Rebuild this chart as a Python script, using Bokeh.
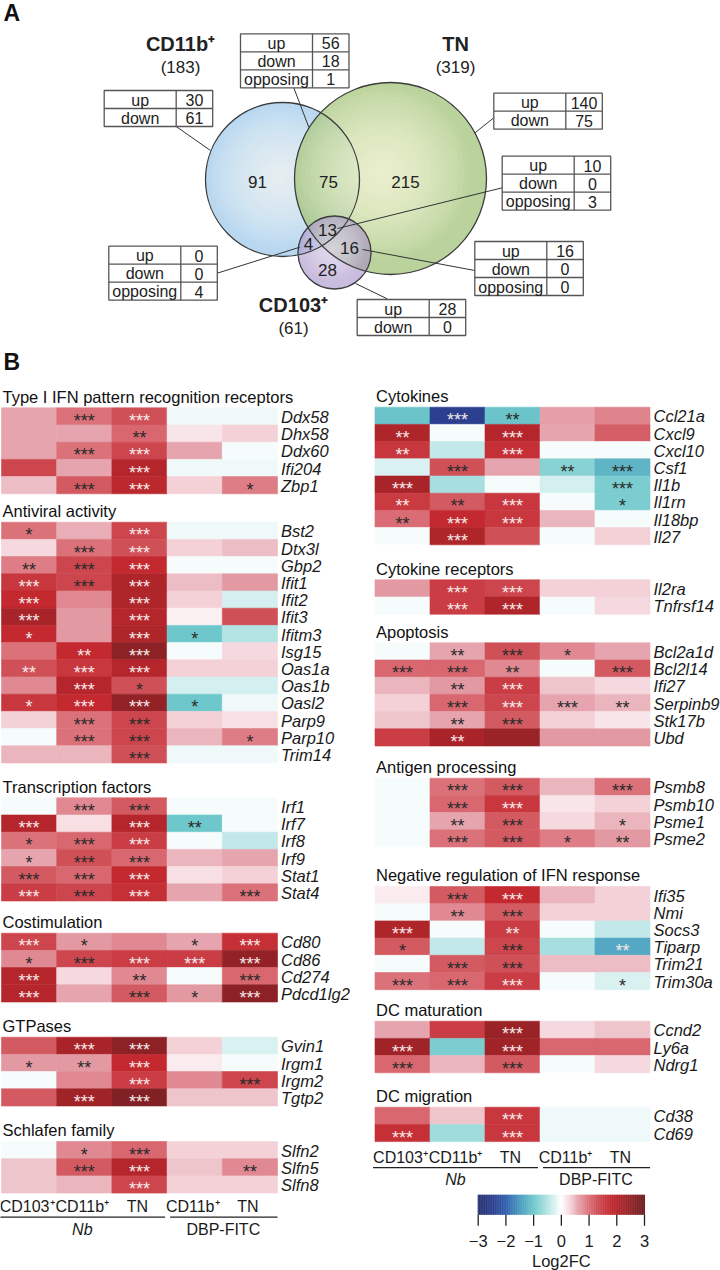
import numpy as np
from bokeh.plotting import figure
from bokeh.models import Range1d, ColumnDataSource
from bokeh.transform import linear_cmap
from bokeh.core.properties import value
from bokeh.embed import file_html
from bokeh.resources import INLINE

FONT = "Liberation Sans"

# ---------------- data: Venn (panel A) ----------------
venn_sets = ["CD11b\u207a", "TN", "CD103\u207a"]
venn_totals = [183, 319, 61]
# regions: CD11b only, CD11b&TN, TN only, all three, TN&CD103, CD103 only, CD11b&CD103
region_counts = [91, 75, 215, 13, 16, 28, 4]
tab_up = [30, 56, 140, 10, 16, 28, 0]
tab_down = [61, 18, 75, 0, 0, 0, 0]
tab_opp = [None, 1, None, 3, 0, None, 4]

# ---------------- data: heatmaps (panel B) ----------------
conditions = ["CD103\u207a", "CD11b\u207a", "TN", "CD11b\u207a", "TN"]
groups = ["Nb", "DBP-FITC"]
cbar_ticks = [-3, -2, -1, 0, 1, 2, 3]
cbar_labels = ["\u22123", "\u22122", "\u22121", "0", "1", "2", "3"]
cbar_title = "Log2FC"

prr_title = "Type I IFN pattern recognition receptors"
prr_genes = ["Ddx58", "Dhx58", "Ddx60", "Ifi204", "Zbp1"]
prr_fc = [[0.6, 1.0, 1.3, -0.1, -0.1], [0.6, 0.6, 1.1, 0.2, 0.35], [0.6, 1.0, 1.4, 0.6, -0.05],
          [1.4, 0.6, 2.0, -0.1, -0.1], [0.45, 1.2, 1.9, 0.35, 0.9]]
prr_sig = [["", "***", "***w", "", ""], ["", "", "**", "", ""], ["", "***", "***w", "", ""],
           ["", "", "***w", "", ""], ["", "***", "***w", "", "*"]]

av_title = "Antiviral activity"
av_genes = ["Bst2", "Dtx3l", "Gbp2", "Ifit1", "Ifit2", "Ifit3", "Ifitm3", "Isg15", "Oas1a", "Oas1b",
            "Oasl2", "Parp9", "Parp10", "Trim14"]
av_fc = [[1.0, 0.55, 1.4, -0.1, -0.1], [0.3, 1.0, 1.3, 0.35, 0.45], [0.9, 1.4, 1.8, -0.05, -0.05],
         [1.6, 1.4, 2.1, 0.45, 0.7], [1.8, 0.8, 2.1, 0.35, -0.3], [2.2, 0.7, 2.0, 0.1, 1.3],
         [1.8, 0.7, 2.1, -1.0, -0.5], [1.0, 1.8, 2.6, -0.05, 0.3], [1.3, 1.6, 2.0, 0.35, 0.35],
         [0.8, 2.0, 1.3, -0.3, -0.3], [1.6, 1.8, 2.5, -1.0, -0.1], [0.35, 1.0, 1.4, 0.35, 0.25],
         [-0.05, 1.0, 1.4, 0.5, 0.9], [0.5, 0.5, 1.3, -0.1, -0.1]]
av_sig = [["*", "", "***w", "", ""], ["", "***", "***w", "", ""], ["**", "***", "***w", "", ""],
          ["***w", "***", "***w", "", ""], ["***w", "", "***w", "", ""], ["***w", "", "***w", "", ""],
          ["*w", "", "***w", "*", ""], ["", "**w", "***w", "", ""], ["**w", "***w", "***w", "", ""],
          ["", "***w", "*", "", ""], ["*w", "***w", "***w", "*", ""], ["", "***", "***", "", ""],
          ["", "***", "***", "", "*"], ["", "", "***", "", ""]]

tf_title = "Transcription factors"
tf_genes = ["Irf1", "Irf7", "Irf8", "Irf9", "Stat1", "Stat4"]
tf_fc = [[-0.05, 0.8, 1.2, -0.05, -0.05], [2.0, 0.25, 2.0, -1.0, -0.05], [1.0, 1.1, 1.5, -0.05, -0.4],
         [0.6, 1.3, 1.1, 0.5, 0.6], [1.2, 1.1, 1.8, 0.25, 0.35], [1.5, 1.4, 1.7, 0.6, 1.0]]
tf_sig = [["", "***", "***", "", ""], ["***w", "", "***w", "**", ""], ["*", "***", "***w", "", ""],
          ["*", "***", "***", "", ""], ["***", "***", "***w", "", ""], ["***w", "***", "***w", "", "***"]]

co_title = "Costimulation"
co_genes = ["Cd80", "Cd86", "Cd274", "Pdcd1lg2"]
co_fc = [[1.4, 0.7, 0.8, 0.6, 1.7], [0.8, 1.4, 1.5, 1.5, 2.5], [2.0, 0.3, 0.8, -0.05, 1.1],
         [2.0, 0.6, 1.2, 0.7, 2.6]]
co_sig = [["***w", "*", "", "*", "***w"], ["*", "***", "***w", "***w", "***w"],
          ["***w", "", "**", "", "***"], ["***w", "", "***", "*", "***w"]]

gtp_title = "GTPases"
gtp_genes = ["Gvin1", "Irgm1", "Irgm2", "Tgtp2"]
gtp_fc = [[1.2, 2.2, 2.6, 0.35, -0.25], [0.7, 0.7, 1.8, 0.15, -0.05], [-0.05, 0.8, 1.5, 0.8, 1.4],
          [1.2, 2.3, 2.7, 0.4, 0.4]]
gtp_sig = [["", "***w", "***w", "", ""], ["*", "**", "***w", "", ""], ["", "", "***w", "", "***"],
           ["", "***w", "***w", "", ""]]

sl_title = "Schlafen family"
sl_genes = ["Slfn2", "Slfn5", "Slfn8"]
sl_fc = [[-0.05, 0.8, 1.1, 0.35, 0.35], [0.4, 1.2, 2.0, 0.4, 0.8], [0.4, 0.5, 1.4, 0.35, 0.35]]
sl_sig = [["", "*", "***", "", ""], ["", "***", "***w", "", "**"], ["", "", "***w", "", ""]]

cy_title = "Cytokines"
cy_genes = ["Ccl21a", "Cxcl9", "Cxcl10", "Csf1", "Il1b", "Il1rn", "Il18bp", "Il27"]
cy_fc = [[-1.05, -2.5, -1.05, 0.65, 0.85], [2.1, -0.05, 2.0, 0.6, 1.15], [1.6, -0.4, 1.7, -0.05, -0.05],
         [-0.25, 1.3, 0.6, -0.8, -1.2], [2.2, -0.6, -0.05, -0.3, -0.9], [1.55, 1.2, 1.6, -0.05, -0.9],
         [1.05, 1.8, 1.6, 0.5, -0.05], [-0.05, 2.1, 1.3, -0.05, 0.35]]
cy_sig = [["", "***w", "**", "", ""], ["**w", "", "***w", "", ""], ["**w", "", "***w", "", ""],
          ["", "***", "", "**", "***"], ["***w", "", "", "", "***"], ["**w", "**", "***w", "", "*"],
          ["**", "***w", "***w", "", ""], ["", "***w", "", "", ""]]

cr_title = "Cytokine receptors"
cr_genes = ["Il2ra", "Tnfrsf14"]
cr_fc = [[0.7, 1.5, 1.4, 0.35, 0.35], [-0.05, 1.5, 2.1, -0.05, 0.3]]
cr_sig = [["", "***w", "***w", "", ""], ["", "***w", "***w", "", ""]]

ap_title = "Apoptosis"
ap_genes = ["Bcl2a1d", "Bcl2l14", "Ifi27", "Serpinb9", "Stk17b", "Ubd"]
ap_fc = [[-0.05, 0.6, 1.3, 0.8, 0.6], [1.1, 1.1, 0.8, -0.05, 1.2], [0.5, 0.7, 1.5, 0.4, 0.3],
         [0.35, 1.1, 1.4, 0.6, 0.5], [0.4, 0.6, 1.2, 0.35, 0.2], [1.5, 2.2, 2.4, 0.7, 0.7]]
ap_sig = [["", "**", "***", "*", ""], ["***", "***", "**", "", "***"], ["", "**", "***w", "", ""],
          ["", "***", "***w", "***", "**"], ["", "**", "***", "", ""], ["", "**w", "", "", ""]]

ag_title = "Antigen processing"
ag_genes = ["Psmb8", "Psmb10", "Psme1", "Psme2"]
ag_fc = [[-0.05, 1.0, 1.2, 0.5, 1.0], [-0.05, 1.1, 1.6, 0.2, 0.35], [-0.05, 0.6, 1.2, 0.3, 0.5],
         [-0.05, 1.0, 1.2, 0.9, 0.7]]
ag_sig = [["", "***", "***", "", "***"], ["", "***", "***w", "", ""], ["", "**", "***", "", "*"],
          ["", "***", "***", "*", "**"]]

ng_title = "Negative regulation of IFN response"
ng_genes = ["Ifi35", "Nmi", "Socs3", "Tiparp", "Trim21", "Trim30a"]
ng_fc = [[0.15, 1.2, 1.8, 0.5, 0.35], [-0.05, 0.8, 1.2, 0.35, 0.35], [2.1, -0.05, 1.5, -0.05, -0.4],
         [1.2, -0.4, 1.4, -0.6, -1.35], [-0.05, 1.2, 1.3, 0.45, 0.45], [1.0, 1.1, 1.5, -0.05, -0.25]]
ng_sig = [["", "***", "***w", "", ""], ["", "**", "***", "", ""], ["***w", "", "**w", "", ""],
          ["*", "", "***", "", "**w"], ["", "***", "***", "", ""], ["***", "***", "***w", "", "*"]]

mt_title = "DC maturation"
mt_genes = ["Ccnd2", "Ly6a", "Ndrg1"]
mt_fc = [[0.6, 1.5, 2.4, 0.3, 0.4], [2.3, -0.9, 2.3, 1.1, 1.1], [1.1, 0.5, 1.2, -0.05, 0.3]]
mt_sig = [["", "", "***w", "", ""], ["***w", "", "***w", "", ""], ["***", "", "***", "", ""]]

mg_title = "DC migration"
mg_genes = ["Cd38", "Cd69"]
mg_fc = [[1.1, 0.4, 1.6, -0.1, -0.1], [1.7, -0.65, 1.6, -0.1, -0.1]]
mg_sig = [["", "", "***w", "", ""], ["***w", "", "***w", "", ""]]

# ---------------- colour scale ----------------
cm_vals = [-3, -2.5, -2, -1.5, -1, -0.5, 0, 0.3, 0.6, 1.0, 1.4, 1.8, 2.2, 2.6, 3]
cm_cols = ["#283070", "#2c3f8f", "#3060ad", "#4a9ac0", "#6ec8cb", "#b5e3e4", "#ffffff", "#f5d8de",
           "#e6a5ae", "#db7179", "#cd464d", "#c3292f", "#a82429", "#8c2226", "#6b1d21"]


def make_palette(vals, cols, n=256):
    rgb = np.array([[int(c[i:i + 2], 16) for i in (1, 3, 5)] for c in cols], dtype=float)
    xs = np.linspace(vals[0], vals[-1], n)
    out = []
    for x in xs:
        r, g, b = (np.interp(x, vals, rgb[:, k]) for k in range(3))
        out.append("#%02x%02x%02x" % (int(round(r)), int(round(g)), int(round(b))))
    return out


PALETTE = make_palette(cm_vals, cm_cols)

# ---------------- figure (data units == page pixels) ----------------
W, H = 720, 1270
p = figure(width=W, height=H, x_range=Range1d(0, W), y_range=Range1d(H, 0),
           output_backend="svg", toolbar_location=None, x_axis_type=None, y_axis_type=None,
           min_border=0)
p.outline_line_color = None
p.background_fill_color = "white"
p.border_fill_color = "white"


def add_text(xs, ys, texts, size, color="#1a1a1a", style="normal", align="left",
             baseline="middle", colors=None):
    data = dict(x=list(xs), y=list(ys), t=list(texts))
    if colors is not None:
        data["c"] = list(colors)
    src = ColumnDataSource(data)
    p.text("x", "y", "t", source=src, text_font=value(FONT), text_font_size=value(f"{size}px"),
           text_font_style=value(style), text_color=("c" if colors is not None else value(color)),
           text_align=value(align), text_baseline=value(baseline))


# ---------------- panel A: Venn ----------------
add_text([3], [12], ["A"], 23, style="bold", color="#111")
add_text([3], [361], ["B"], 23, style="bold", color="#111")

cx = [282, 390, 334]
cy = [179, 178, 252]
cr = [77, 96, 36.5]
base_cols = ["#b9d8f0", "#a3c37a", "#a590c8"]
base_alpha = [1.0, 0.75, 0.6]
hl_cols = ["#ffffff", "#fdfde6", "#ffffff"]
hl_off = [(-3, -3), (-8, -6), (-2, -4)]
hl_alpha = [0.065, 0.075, 0.045]
for k in range(3):
    p.circle(x=[cx[k]], y=[cy[k]], radius=cr[k], fill_color=base_cols[k], fill_alpha=base_alpha[k],
             line_color=None)
    radii = [cr[k] * f for f in np.arange(0.9, 0.03, -0.05)]
    p.circle(x=[cx[k] + hl_off[k][0]] * len(radii), y=[cy[k] + hl_off[k][1]] * len(radii),
             radius=radii, fill_color=hl_cols[k], fill_alpha=hl_alpha[k], line_color=None)
p.circle(x=cx, y=cy, radius=cr, fill_color=None, line_color="#3c3c3c", line_width=1.3)

# set names and totals
set_lx = [180, 455, 293]
set_ly = [43, 43, 304]
add_text(set_lx, set_ly, venn_sets, 20, style="bold", color="#222", align="center")
add_text(set_lx, [y + 24 for y in set_ly], [f"({t})" for t in venn_totals], 17, color="#222",
         align="center")

# region counts
reg_x = [257, 328, 405, 327, 349, 327, 308]
reg_y = [181, 181, 181, 229, 247, 269, 243]
add_text(reg_x, reg_y, [str(c) for c in region_counts], 17, color="#222", align="center")

# tables
tab_x0 = [103.7, 240, 493.3, 501.7, 474.3, 356.7, 108.3]
tab_y0 = [90, 33.3, 92.7, 155.7, 241, 299, 245.7]
tab_wl = 72
tab_wr = 36.5
tab_rh = 18
lead = [((175.7, 126), (210, 150)), ((293.3, 87.3), (308.3, 126.7)), ((493.3, 117.3), (474, 132.7)),
        ((501.7, 187.3), (337, 228)), ((474.3, 270), (362, 249)), ((386.7, 298.3), (355, 283)),
        ((216.7, 272.7), (299.3, 246.7))]
p.segment(x0=[a[0][0] for a in lead], y0=[a[0][1] for a in lead], x1=[a[1][0] for a in lead],
          y1=[a[1][1] for a in lead], line_color="#333", line_width=1)
for k in range(7):
    rows = [("up", tab_up[k]), ("down", tab_down[k])]
    if tab_opp[k] is not None:
        rows.append(("opposing", tab_opp[k]))
    n = len(rows)
    x0, y0 = tab_x0[k], tab_y0[k]
    x1 = x0 + tab_wl + tab_wr
    p.quad(left=[x0], right=[x1], top=[y0], bottom=[y0 + n * tab_rh], fill_color="white",
           line_color="#555", line_width=1.3)
    sx0 = [x0 + tab_wl] + [x0] * (n - 1)
    sx1 = [x0 + tab_wl] + [x1] * (n - 1)
    sy0 = [y0] + [y0 + i * tab_rh for i in range(1, n)]
    sy1 = [y0 + n * tab_rh] + [y0 + i * tab_rh for i in range(1, n)]
    p.segment(x0=sx0, y0=sy0, x1=sx1, y1=sy1, line_color="#555", line_width=1.3)
    add_text([x0 + tab_wl / 2] * n, [y0 + (i + 0.5) * tab_rh + 0.5 for i in range(n)],
             [r[0] for r in rows], 16, color="#222", align="center")
    add_text([x0 + tab_wl + tab_wr / 2] * n, [y0 + (i + 0.5) * tab_rh + 0.5 for i in range(n)],
             [str(r[1]) for r in rows], 16, color="#222", align="center")

# ---------------- panel B: heatmaps ----------------
RH = 17.2
STAR_DY = 4.6


def draw_section(x0, cw, y0, title, genes, fc, sig):
    xs, ys, vs = [], [], []
    stx, sty, stt, stc = [], [], [], []
    for i, g in enumerate(genes):
        yc = y0 + (i + 0.5) * RH
        for j in range(5):
            xc = x0 + (j + 0.5) * cw
            xs.append(xc)
            ys.append(yc)
            vs.append(fc[i][j])
            s = sig[i][j]
            if s:
                white = s.endswith("w")
                stx.append(xc)
                sty.append(yc + STAR_DY)
                stt.append(s.rstrip("w"))
                stc.append("#f6e8e8" if white else "#2a2a2a")
    src = ColumnDataSource(dict(x=xs, y=ys, v=vs))
    cmap = linear_cmap("v", PALETTE, -3, 3)
    p.rect("x", "y", width=cw, height=RH, source=src, fill_color=cmap, line_color=cmap,
           line_width=0.6)
    add_text(stx, sty, stt, 18, colors=stc, align="center")
    add_text([x0 + 5 * cw + 3.5] * len(genes), [y0 + (i + 0.5) * RH + 0.5 for i in range(len(genes))],
             genes, 16.5, color="#1a1a1a", style="italic")
    add_text([x0 + 1], [y0 - 11.3], [title], 16.5, color="#111")
    return y0 + len(genes) * RH


LX0, LCW = 1.0, 55.2
RX0, RCW = 374.5, 55.0

left_secs = [(prr_title, prr_genes, prr_fc, prr_sig), (av_title, av_genes, av_fc, av_sig),
             (tf_title, tf_genes, tf_fc, tf_sig), (co_title, co_genes, co_fc, co_sig),
             (gtp_title, gtp_genes, gtp_fc, gtp_sig), (sl_title, sl_genes, sl_fc, sl_sig)]
left_y = [407.3, 521.7, 797.3, 932.7, 1036.7, 1141.0]
right_secs = [(cy_title, cy_genes, cy_fc, cy_sig), (cr_title, cr_genes, cr_fc, cr_sig),
              (ap_title, ap_genes, ap_fc, ap_sig), (ag_title, ag_genes, ag_fc, ag_sig),
              (ng_title, ng_genes, ng_fc, ng_sig), (mt_title, mt_genes, mt_fc, mt_sig),
              (mg_title, mg_genes, mg_fc, mg_sig)]
right_y = [406.7, 579.3, 642.3, 777.7, 886.0, 1020.7, 1106.7]

left_end = 0
for sec, y0 in zip(left_secs, left_y):
    left_end = draw_section(LX0, LCW, y0, *sec)
right_end = 0
for sec, y0 in zip(right_secs, right_y):
    right_end = draw_section(RX0, RCW, y0, *sec)


def column_labels(x0, cw, yend):
    xs = [x0 + (j + 0.5) * cw - 2 for j in range(5)]
    add_text(xs, [yend + 15.5] * 5, conditions, 16, color="#1a1a1a", align="center")
    p.segment(x0=[x0 - 2, x0 + 3 * cw + 3], y0=[yend + 26] * 2, x1=[x0 + 3 * cw - 2, x0 + 5 * cw],
              y1=[yend + 26] * 2, line_color="#222", line_width=1.2)
    add_text([x0 + 1.5 * cw - 2], [yend + 38], [groups[0]], 16, color="#1a1a1a", style="italic",
             align="center")
    add_text([x0 + 4 * cw + 1], [yend + 38], [groups[1]], 16, color="#1a1a1a", align="center")


column_labels(LX0, LCW, left_end - 2)
column_labels(RX0, RCW, right_end)

# ---------------- colour bar ----------------
CB_X0, CB_X1, CB_Y0, CB_Y1 = 477.7, 644.0, 1194.3, 1214.3
grad = np.linspace(-3, 3, 240)
gw = (CB_X1 - CB_X0) / len(grad)
gsrc = ColumnDataSource(dict(x=[CB_X0 + (v + 3) / 6 * (CB_X1 - CB_X0) for v in grad],
                             y=[(CB_Y0 + CB_Y1) / 2] * len(grad), v=list(grad)))
gmap = linear_cmap("v", PALETTE, -3, 3)
p.rect("x", "y", width=gw + 0.4, height=CB_Y1 - CB_Y0, source=gsrc, fill_color=gmap,
       line_color=None)
tx = [CB_X0 + (t + 3) / 6 * (CB_X1 - CB_X0) for t in cbar_ticks]
p.segment(x0=tx, y0=[CB_Y1] * 7, x1=tx, y1=[CB_Y1 + 11] * 7, line_color="#222", line_width=1.3)
add_text(tx, [1240.5] * 7, cbar_labels, 16.5, color="#1a1a1a", align="center")
add_text([(CB_X0 + CB_X1) / 2], [1260], [cbar_title], 16.5, color="#1a1a1a", align="center")

open("out.html", "w").write(file_html(p, INLINE))
